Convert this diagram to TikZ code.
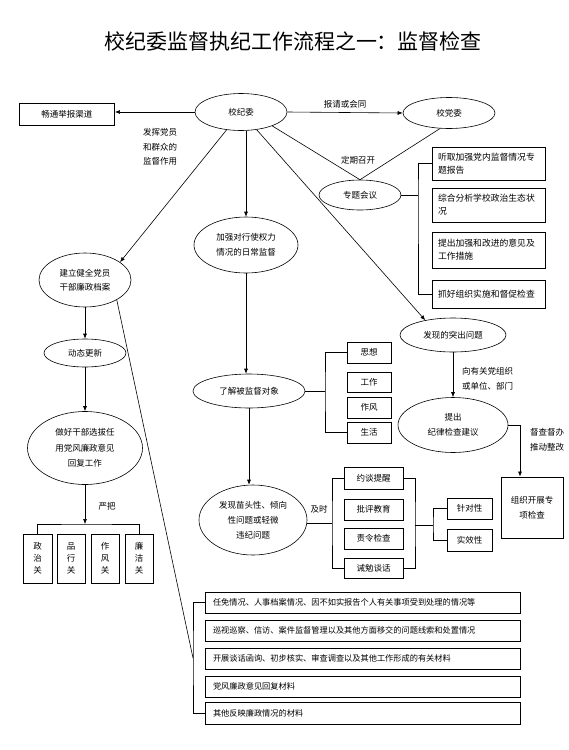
\documentclass[tikz,border=0pt]{standalone}
\usepackage{fontspec}
\setmainfont{Noto Sans CJK SC}
\usetikzlibrary{shapes.geometric,arrows.meta}
\begin{document}
\begin{tikzpicture}[x=1pt,y=-1pt,
  every node/.style={font=\fontsize{8.5}{14.5}\selectfont},
  ell/.style={ellipse,draw,line width=0.6pt,inner sep=0pt,align=center},
  bx/.style={rectangle,draw,line width=0.9pt,inner sep=0pt,align=center},
  lbox/.style={rectangle,draw,line width=0.9pt,inner ysep=0pt,inner xsep=6pt,align=left},
  vbox/.style={rectangle,draw,line width=0.9pt,inner sep=0pt,align=center,font=\fontsize{8.5}{12}\selectfont},
  lbl/.style={inner sep=0pt,align=center},
  ln/.style={line width=0.6pt},
  arr/.style={line width=0.6pt,-{Latex[length=5pt,width=4pt]}}]
\useasboundingbox (0,0) rectangle (569,750);
% title
\node[lbl,font=\fontsize{21}{24}\selectfont] (title) at (293,41) {校纪委监督执纪工作流程之一：监督检查};
% top row
\node[bx,minimum width=95,minimum height=22] (ct) at (67,114) {畅通举报渠道};
\node[ell,minimum width=92,minimum height=37] (xjw) at (241,112) {校纪委};
\node[ell,minimum width=92,minimum height=31] (xdw) at (449,113) {校党委};
\node[lbl] (l1) at (345,104) {报请或会同};
\node[lbl] (l2) at (160,147) {发挥党员\\和群众的\\监督作用};
\node[lbl] (l3) at (358,160) {定期召开};
\node[ell,minimum width=82,minimum height=30] (zt) at (360,195) {专题会议};
% right boxes of 专题会议
\begin{scope}[every node/.append style={font=\fontsize{8.8}{13}\selectfont}]
\node[lbox,text width=101,minimum height=33] (b1) at (488.5,163.5) {听取加强党内监督情况专\\题报告};
\node[lbox,text width=101,minimum height=34] (b2) at (488.5,205) {综合分析学校政治生态状\\况};
\node[lbox,text width=101,minimum height=36] (b3) at (488.5,250) {提出加强和改进的意见及\\工作措施};
\node[lbox,text width=101,minimum height=28] (b4) at (488.5,294) {抓好组织实施和督促检查};
\end{scope}
% middle column
\node[ell,minimum width=104,minimum height=56] (jq) at (246,245) {加强对行使权力\\情况的日常监督};
\node[ell,minimum width=112,minimum height=34] (lj) at (249,391) {了解被监督对象};
\node[vbox,minimum width=44,minimum height=21] (s1) at (369,352.5) {思想};
\node[vbox,minimum width=44,minimum height=20] (s2) at (369,382) {工作};
\node[vbox,minimum width=44,minimum height=21] (s3) at (369,407.5) {作风};
\node[vbox,minimum width=44,minimum height=21] (s4) at (369,432.5) {生活};
\node[ell,minimum width=108,minimum height=70,font=\fontsize{8.5}{15}\selectfont] (mt) at (253,520) {发现苗头性、倾向\\性问题或轻微\\违纪问题};
\node[lbl] (l4) at (319,509) {及时};
\node[vbox,minimum width=59,minimum height=22] (t1) at (373.5,478) {约谈提醒};
\node[vbox,minimum width=59,minimum height=21] (t2) at (373.5,509.5) {批评教育};
\node[vbox,minimum width=59,minimum height=21] (t3) at (373.5,538.5) {责令检查};
\node[vbox,minimum width=59,minimum height=20] (t4) at (373.5,568) {诫勉谈话};
\node[vbox,minimum width=45,minimum height=21] (z1) at (469.5,508.5) {针对性};
\node[vbox,minimum width=45,minimum height=22] (z2) at (469.5,540) {实效性};
% right column
\node[ell,minimum width=106,minimum height=34] (fx) at (453,335) {发现的突出问题};
\node[lbl,anchor=west,align=left] (l5) at (462,379) {向有关党组织\\或单位、部门};
\node[ell,minimum width=110,minimum height=55] (tc) at (453,425) {提出\\纪律检查建议};
\node[lbl,anchor=west,align=left] (l6) at (530,440) {督查督办\\推动整改};
\node[bx,minimum width=62,minimum height=61,font=\fontsize{8.5}{15}\selectfont] (zz) at (532,507.5) {组织开展专\\项检查};
% left column
\node[ell,minimum width=92,minimum height=54] (jl) at (85,280) {建立健全党员\\干部廉政档案};
\node[ell,minimum width=82,minimum height=28] (dt) at (85,353) {动态更新};
\node[ell,minimum width=115,minimum height=73,font=\fontsize{8.5}{15.5}\selectfont] (zh) at (85,448) {做好干部选拔任\\用党风廉政意见\\回复工作};
\node[lbl] (l7) at (107,506) {严把};
\node[vbox,minimum width=29,minimum height=49] (g1) at (37.5,558.5) {政\\治\\关};
\node[vbox,minimum width=28,minimum height=49] (g2) at (71,558.5) {品\\行\\关};
\node[vbox,minimum width=28,minimum height=49] (g3) at (105,558.5) {作\\风\\关};
\node[vbox,minimum width=28,minimum height=49] (g4) at (139,558.5) {廉\\洁\\关};
% bottom boxes
\begin{scope}[every node/.append style={font=\fontsize{8.2}{12}\selectfont}]
\node[lbox,inner xsep=8pt,text width=299,minimum height=21] (p1) at (362.5,602.5) {任免情况、人事档案情况、因不如实报告个人有关事项受到处理的情况等};
\node[lbox,inner xsep=8pt,text width=299,minimum height=21] (p2) at (362.5,630.5) {巡视巡察、信访、案件监督管理以及其他方面移交的问题线索和处置情况};
\node[lbox,inner xsep=8pt,text width=299,minimum height=21] (p3) at (362.5,658.5) {开展谈话函询、初步核实、审查调查以及其他工作形成的有关材料};
\node[lbox,inner xsep=8pt,text width=299,minimum height=21] (p4) at (362.5,686.5) {党风廉政意见回复材料};
\node[lbox,inner xsep=8pt,text width=299,minimum height=22] (p5) at (362.5,713) {其他反映廉政情况的材料};
\end{scope}
% connectors
\draw[arr] (xjw.west) -- (xjw.west -| ct.east);
\draw[arr] (xjw.east) -- (xdw.west);
\draw[ln] (xjw.-24) -- (zt.north);
\draw[ln] (xdw.240) -- (zt.north);
\draw[arr] (xjw.south -| jq.north) -- (jq.north);
\draw[arr] (xjw) -- (jl.27);
\draw[arr] (xjw) -- (fx.152);
% 专题会议 bracket
\coordinate (ztb) at (418,195);
\draw[ln] (zt.east) -- (ztb);
\draw[ln] (b1.west) -| (ztb) |- (b4.west);
% middle
\draw[arr] (jq.south) -- (jq.south |- lj.north);
\coordinate (ljb) at (325,391);
\draw[ln] (lj.east) -- (ljb);
\draw[ln] (s1.west) -| (ljb) |- (s4.west);
\draw[arr] (lj.south) -- (lj.south |- mt.north);
\coordinate (mtb) at (332,523);
\draw[ln] (mt.east |- mtb) -- (mtb);
\draw[ln] (t1.west) -| (mtb) |- (t4.west);
\coordinate (trb) at (415,525);
\coordinate (trc) at (433,525);
\draw[ln] (t1.east) -| (trb) |- (t4.east);
\draw[ln] (trb) -- (trc);
\draw[ln] (z1.west) -| (trc) |- (z2.west);
% right
\draw[arr] (fx.south) -- (tc.north);
\coordinate (tz) at (520,425);
\draw[arr] (tc.east) -- (tz) -- (tz |- zz.north);
% left
\draw[arr] (jl.south) -- (dt.north);
\draw[arr] (dt.south) -- (zh.north);
\coordinate (gj) at (85,524);
\draw[arr] (zh.south) -- (gj);
\draw[ln] (g1.north) |- (gj) -| (g4.north);
% bottom bracket
\coordinate (pb) at (193,658);
\draw[ln] (jl.-32) -- (pb);
\draw[ln] (p1.west) -| (pb) |- (p5.west);
\end{tikzpicture}
\end{document}
